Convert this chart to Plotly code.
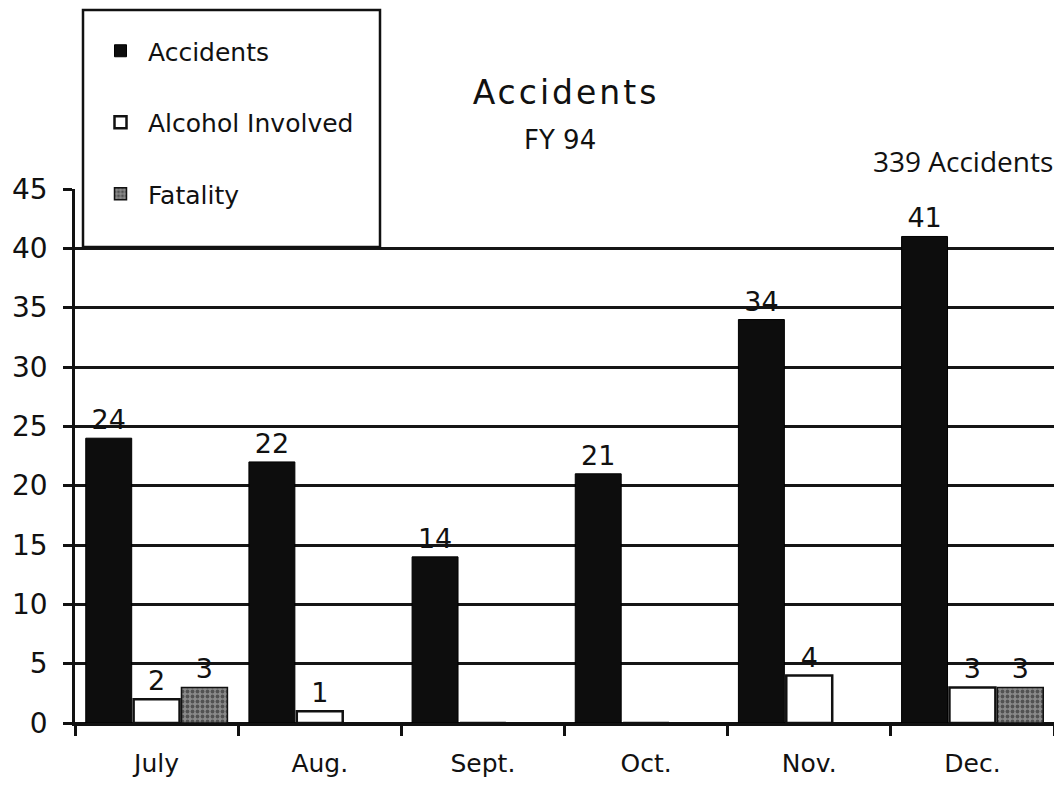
import plotly.graph_objects as go

# FY 94 accident counts by month
months = ['July', 'Aug.', 'Sept.', 'Oct.', 'Nov.', 'Dec.']
accidents = [24, 22, 14, 21, 34, 41]
alcohol = [2, 1, 0, 0, 4, 3]
fatality = [3, 0, 0, 0, 0, 3]
total_note = '339 Accidents'

font_main = 'DejaVu Sans'

# page body has an 8px margin, so the figure is sized to fit the window
W, H = 1046, 773
PL, PT, PB = 67, 181, 58
pw = W - PL            # plot width in px
ph = H - PT - PB       # plot height in px


def px_x(x):
    # absolute window x -> paper x
    return (x - 8 - PL) / pw


def px_y(y):
    # absolute window y -> paper y
    return (H - PB - (y - 8)) / ph


def labels(vals):
    # zero months have no bar label in the original
    return [str(v) if v else '' for v in vals]


fig = go.Figure()

fig.add_trace(go.Bar(
    x=months, y=accidents, name='Accidents', legendgroup='a',
    marker=dict(color='#0d0d0d', line=dict(color='#000000', width=1)),
    text=labels(accidents), textposition='outside', constraintext='none',
    textfont=dict(family=font_main, size=27, color='#111111'),
    cliponaxis=False))

fig.add_trace(go.Bar(
    x=months, y=alcohol, name='Alcohol Involved', legendgroup='b',
    marker=dict(color='#ffffff', line=dict(color='#111111', width=2.5)),
    text=labels(alcohol), textposition='outside', constraintext='none',
    textfont=dict(family=font_main, size=27, color='#111111'),
    cliponaxis=False))

fig.add_trace(go.Bar(
    x=months, y=fatality, name='Fatality', legendgroup='c',
    marker=dict(color='#6e6e6e', line=dict(color='#111111', width=1.5),
                pattern=dict(shape='.', fgcolor='#1a1a1a', bgcolor='#8a8a8a',
                             size=5, solidity=0.45)),
    text=labels(fatality), textposition='outside', constraintext='none',
    textfont=dict(family=font_main, size=27, color='#111111'),
    cliponaxis=False))

fig.update_layout(
    width=W, height=H,
    margin=dict(l=PL, r=0, t=PT, b=PB, pad=0, autoexpand=False),
    paper_bgcolor='white', plot_bgcolor='white',
    font=dict(family=font_main, size=24, color='#111111'),
    barmode='group', bargap=0.12, bargroupgap=0.04,
    title=dict(text='<span style="letter-spacing:3px">Accidents</span>',
               font=dict(family=font_main, size=33, color='#111111'),
               x=px_x(566), xref='paper', xanchor='center',
               y=1 - (92 - 8) / H, yref='container', yanchor='middle'),
    legend=dict(x=px_x(93), y=px_y(28), xanchor='left', yanchor='top',
                bgcolor='rgba(0,0,0,0)', borderwidth=0,
                font=dict(family=font_main, size=25, color='#111111'),
                tracegroupgap=36, itemwidth=45, traceorder='grouped'),
    showlegend=True,
)

# legend frame (white box that also hides the top grid lines)
fig.add_shape(type='rect', xref='paper', yref='paper',
              x0=px_x(83), x1=px_x(380), y0=px_y(247), y1=px_y(10),
              line=dict(color='#111111', width=2.5), fillcolor='white',
              layer='above')

fig.update_yaxes(
    range=[0, 45], dtick=5, tick0=0,
    showline=True, linecolor='#111111', linewidth=2.5,
    ticks='outside', ticklen=9, tickwidth=2.5, tickcolor='#111111',
    showgrid=True, gridcolor='#151515', gridwidth=2.5,
    zeroline=True, zerolinecolor='#111111', zerolinewidth=3,
    tickfont=dict(family=font_main, size=28, color='#111111'),
    ticklabelstandoff=10)

fig.update_xaxes(
    type='category', tickson='boundaries',
    showline=True, linecolor='#111111', linewidth=3,
    ticks='outside', ticklen=10, tickwidth=2.5, tickcolor='#111111',
    showgrid=False,
    tickfont=dict(family=font_main, size=25, color='#111111'),
    ticklabelstandoff=16)

fig.add_annotation(text='FY 94', xref='paper', yref='paper',
                   x=px_x(560), y=px_y(140),
                   xanchor='center', yanchor='middle', showarrow=False,
                   font=dict(family=font_main, size=26, color='#111111'))

fig.add_annotation(text=total_note, xref='paper', yref='paper',
                   x=px_x(1055), y=px_y(161),
                   xanchor='right', yanchor='middle', showarrow=False,
                   font=dict(family='Open Sans', size=28, color='#111111'))

fig.write_html("out.html")
